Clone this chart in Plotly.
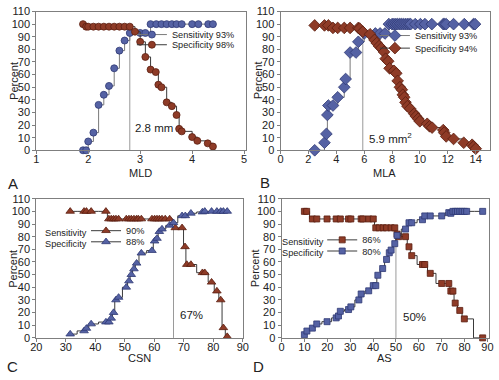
import plotly.graph_objects as go

W, H = 499, 380
FONT = "Liberation Sans, Arial, sans-serif"

# ---------------- Panel A : MLD ----------------
mld_sens_x = [1.90, 1.96, 2.00, 2.10, 2.20, 2.30, 2.40, 2.50, 2.60, 2.70, 2.80, 3.00, 3.10,
              3.20, 3.31, 3.41, 3.51, 3.61, 3.70, 3.80, 4.00, 4.12, 4.31, 4.40]
mld_sens_y = [0, 0, 7, 14, 36, 44, 51, 65, 79, 87, 93, 93, 93,
              100, 100, 100, 100, 100, 100, 100, 100, 100, 100, 100]
mld_spec_x = [1.90, 1.96, 2.00, 2.10, 2.20, 2.30, 2.40, 2.50, 2.60, 2.70, 2.80, 2.90, 3.00,
              3.10, 3.20, 3.30, 3.35, 3.41, 3.51, 3.61, 3.70, 3.75, 3.80, 4.00, 4.10, 4.30, 4.40]
mld_spec_y = [100, 98, 98, 98, 98, 98, 98, 98, 98, 98, 98, 94, 86,
              74, 64, 62, 52, 50, 38, 35, 28, 17, 15, 10.5, 7.5, 5.5, 3]
mld_cut, mld_cut_y = 2.8, 93.5

# ---------------- Panel B : MLA ----------------
mla_sens_x = [2.45, 3.15, 3.29, 3.36, 3.43, 3.76, 4.10, 4.57, 4.67, 4.99, 5.41, 5.58, 6.00,
              6.80, 7.14, 7.49, 7.77, 8.00, 8.14, 8.28, 8.40, 8.54, 8.66, 8.80, 8.94, 9.08,
              9.22, 9.33, 9.66, 10.03, 10.36, 10.85, 11.67, 11.76, 11.88, 12.41, 13.18, 13.84, 13.95]
mla_sens_y = [0, 6, 13, 28, 35.5, 35.5, 42, 50, 56.5, 77.5, 77.5, 86, 92.6,
              92.6, 92.6, 92.6, 100, 100, 100, 100, 100, 100, 100, 100, 100, 100,
              100, 100, 100, 100, 100, 100, 100, 100, 100, 100, 100, 100, 100]
mla_spec_x = [2.45, 3.15, 3.43, 3.76, 4.10, 4.57, 4.99, 5.58, 5.67, 5.90, 6.42, 6.74, 6.90,
              7.07, 7.23, 7.42, 7.54, 7.72, 7.82, 8.14, 8.30, 8.40, 8.56, 8.70, 8.77, 8.87,
              8.96, 9.10, 9.29, 9.59, 9.71, 9.87, 9.99, 10.52, 10.69, 10.87, 11.67, 11.74,
              11.88, 12.41, 13.14, 13.74, 13.84, 14.00]
mla_spec_y = [99, 99, 99, 97, 97, 97, 97, 97, 96.5, 94, 92, 87.5, 85,
              82.6, 81, 78, 72.6, 70.6, 65, 63, 61, 55, 50, 48, 44, 42,
              38, 35, 33, 29, 27, 25, 23, 21, 19, 18, 16, 14,
              11, 9, 6, 4.4, 3, 1.3]
mla_cut, mla_cut_y = 5.9, 93.5

# ---------------- Panel C : CSN ----------------
csn_sens_x = [31.5, 36.2, 37.0, 38.6, 43.6, 44.6, 45.4, 46.2, 47.0, 47.9, 50.5, 51.4, 52.2,
              53.1, 54.0, 54.6, 55.6, 59.2, 60.1, 60.9, 61.7, 62.6, 63.7, 65.2, 67.1, 69.4,
              70.4, 71.0, 72.4, 76.3, 77.1, 79.4, 81.2, 82.5, 83.4, 84.7]
csn_sens_y = [100, 100, 100, 100, 100, 94, 94, 94, 94, 94, 94, 94, 94,
              94, 94, 94, 94, 94, 94, 94, 94, 94, 94, 94, 87, 87,
              72, 58, 58, 51.5, 51.5, 44, 37, 30, 8, 1]
csn_spec_x = [31.5, 36.2, 37.0, 38.6, 43.6, 44.6, 45.4, 46.2, 47.0, 47.9, 50.5, 51.4, 52.2,
              53.1, 54.0, 55.6, 59.2, 60.1, 60.9, 61.7, 62.6, 65.2, 66.5, 69.4, 70.5, 72.4,
              76.3, 77.1, 79.4, 81.2, 82.5, 83.4, 84.7]
csn_spec_y = [3, 5.5, 7.5, 11, 12.5, 12.5, 15.5, 20, 30, 32, 40, 45, 50,
              54.5, 59, 67, 69, 76.5, 78.6, 84, 86, 89, 91, 96.5, 96.5, 98.5,
              99.5, 100, 100, 100, 100, 100, 100]
csn_cut, csn_cut_y = 66.5, 88

# ---------------- Panel D : AS ----------------
as_sens_x = [10, 11, 13.5, 15.4, 19.9, 23.9, 25.7, 29.3, 30.3, 34.8, 35.5, 38.1, 40.1,
             41.2, 42.7, 44.4, 45.9, 47.9, 49.5, 50.5, 51.2, 54.2, 55.7, 56.9, 61.6, 62.6,
             65.0, 70.0, 73.1, 74.0, 74.9, 75.9, 77.9, 79.9, 87.9]
as_sens_y = [100, 100, 94, 94, 94, 94, 94, 94, 94, 94, 94, 94, 94,
             87, 87, 87, 87, 87, 87, 82, 80, 80, 72, 65, 58, 58,
             51, 43, 43, 37, 37, 27.5, 21.7, 15, 0]
as_spec_x = [10, 11.1, 13.5, 15.4, 19.9, 23.9, 24.9, 25.7, 29.3, 30.3, 33.8, 34.8, 38.1,
             40.1, 41.2, 42.1, 44.2, 45.9, 47.1, 47.9, 49.5, 50.5, 54.2, 55.7, 56.9, 61.6,
             62.6, 65.0, 70.0, 73.1, 74.0, 74.9, 75.9, 76.9, 77.9, 78.9, 79.9, 80.9, 87.9]
as_spec_y = [2.5, 5.4, 7.7, 11, 12.8, 15.8, 17.3, 21, 22.4, 24.5, 30, 34.7, 37.2,
             41.3, 41.3, 49.5, 54.8, 62, 67.3, 69.4, 74.5, 81, 86, 91, 91, 93.4,
             96.4, 96.4, 96.4, 99, 98.5, 100, 100, 100, 100, 100, 100, 100, 100]
as_cut, as_cut_y = 50, 81

BLUE, BLUE_EDGE = "#5562A4", "#2E3873"
BROWN, BROWN_EDGE = "#8E3B27", "#5A1E10"
LINE_BLUE, LINE_BROWN = "#7a7a7a", "#3a3a3a"
LEG_SIZE = 9.2

fig = go.Figure()


def cutline(x, ytop, xa, ya):
    fig.add_trace(go.Scatter(x=[x, x], y=[0, ytop], xaxis=xa, yaxis=ya, mode="lines",
                             line=dict(color="#9a9a9a", width=1), showlegend=False,
                             hoverinfo="skip"))


def series(x, y, xa, ya, name, legend, fill, edge, lcol, symbol, size, shape):
    fig.add_trace(go.Scatter(
        x=x, y=y, xaxis=xa, yaxis=ya, mode="lines+markers", name=name, legend=legend,
        line=dict(shape=shape, color=lcol, width=1),
        marker=dict(symbol=symbol, size=size, color=fill, line=dict(color=edge, width=0.8)),
        cliponaxis=False))


cutline(mld_cut, mld_cut_y, "x", "y")
series(mld_sens_x, mld_sens_y, "x", "y", "Sensitivity 93%", "legend", BLUE, BLUE_EDGE, LINE_BLUE, "circle", 7, "hv")
series(mld_spec_x, mld_spec_y, "x", "y", "Specificity 98%", "legend2", BROWN, BROWN_EDGE, LINE_BROWN, "circle", 7, "hv")

cutline(mla_cut, mla_cut_y, "x2", "y2")
series(mla_sens_x, mla_sens_y, "x2", "y2", "Sensitivity 93%", "legend3", BLUE, BLUE_EDGE, LINE_BLUE, "diamond", 9, "hv")
series(mla_spec_x, mla_spec_y, "x2", "y2", "Specificity 94%", "legend4", BROWN, BROWN_EDGE, LINE_BROWN, "diamond", 9, "hv")

cutline(csn_cut, csn_cut_y, "x3", "y3")
series(csn_sens_x, csn_sens_y, "x3", "y3", "90%", "legend5", BROWN, BROWN_EDGE, LINE_BROWN, "triangle-up", 7.5, "hvh")
series(csn_spec_x, csn_spec_y, "x3", "y3", "88%", "legend6", BLUE, BLUE_EDGE, LINE_BROWN, "triangle-up", 7.5, "hvh")

cutline(as_cut, as_cut_y, "x4", "y4")
series(as_sens_x, as_sens_y, "x4", "y4", "86%", "legend7", BROWN, BROWN_EDGE, LINE_BROWN, "square", 6, "hvh")
series(as_spec_x, as_spec_y, "x4", "y4", "80%", "legend8", BLUE, BLUE_EDGE, LINE_BROWN, "square", 6, "hvh")


def px(p):
    return p / W


def py(p):
    return 1 - p / H


axis_common = dict(showgrid=False, zeroline=False, showline=True, mirror=True,
                   linecolor="#7f7f7f", linewidth=1, ticks="outside", ticklen=3,
                   tickcolor="#7f7f7f", tickfont=dict(family=FONT, size=11, color="#222"))


def xax(dom, rng, dtick, anchor):
    return dict(axis_common, domain=[px(dom[0]), px(dom[1])], range=rng, dtick=dtick,
                tick0=0, anchor=anchor, ticklabelstandoff=-4)


def yax(dom, anchor):
    return dict(axis_common, domain=[py(dom[1]), py(dom[0])], range=[0, 110], dtick=10,
                tick0=0, anchor=anchor)


def leg(xm, ym):
    # single-item legend: marker centre sits 20px right of the legend's left edge
    return dict(x=px(xm - 20), y=py(ym), xanchor="left", yanchor="middle",
                bgcolor="rgba(0,0,0,0)", borderwidth=0, itemwidth=30,
                font=dict(family=FONT, size=LEG_SIZE, color="#222"))


layout = dict(
    width=W, height=H, margin=dict(l=0, r=0, t=0, b=0),
    paper_bgcolor="white", plot_bgcolor="white",
    xaxis=xax((31, 246.1), [1, 5.04], 1, "y"),
    yaxis=yax((5.7, 149), "x"),
    xaxis2=xax((281.3, 495.6), [0, 15], 2, "y2"),
    yaxis2=yax((5.7, 149), "x2"),
    xaxis3=xax((31, 242.7), [20, 90], 10, "y3"),
    yaxis3=yax((199, 342.7), "x3"),
    xaxis4=xax((282.3, 494.5), [0, 90.5], 10, "y4"),
    yaxis4=yax((199, 342.7), "x4"),
    legend=leg(149, 29.5), legend2=leg(149, 40),
    legend3=leg(398, 30.5), legend4=leg(398, 43.5),
    legend5=leg(102, 232), legend6=leg(102, 243.5),
    legend7=leg(344, 241.5), legend8=leg(344, 253),
    showlegend=True,
)
fig.update_layout(**layout)

ann = []


def text(xp, yp, s, size=11, xanchor="center", angle=0):
    ann.append(dict(x=px(xp), y=py(yp), xref="paper", yref="paper", text=s, showarrow=False,
                    xanchor=xanchor, yanchor="middle", textangle=angle,
                    font=dict(family=FONT, size=size, color="#222")))


# axis titles
text(138, 172, "MLD")
text(388, 172, "MLA")
text(137, 363.5, "CSN")
text(388, 363.5, "AS")
text(7.5, 77, "Percent", angle=-90)
text(258, 77, "Percent", angle=-90)
text(7.5, 271, "Percent", angle=-90)
text(256, 271, "Percent", angle=-90)
# panel letters
text(7, 183, "A", size=15)
text(265, 182, "B", size=15)
text(7, 372, "C", size=15)
text(259, 372, "D", size=15)
# legend prefixes
text(85.5, 234, "Sensitivity", size=LEG_SIZE, xanchor="right")
text(85.5, 245.5, "Specificity", size=LEG_SIZE, xanchor="right")
text(328, 243.5, "Sensitivity", size=LEG_SIZE, xanchor="right")
text(328, 255, "Specificity", size=LEG_SIZE, xanchor="right")

# cutoff labels (data coordinates)
ann.append(dict(x=2.86, y=18, xref="x", yref="y", text=f"{mld_cut} mm", showarrow=False,
                xanchor="left", font=dict(family=FONT, size=11.5, color="#222")))
ann.append(dict(x=6.2, y=10, xref="x2", yref="y2", text=f"{mla_cut} mm<sup>2</sup>",
                showarrow=False, xanchor="left", font=dict(family=FONT, size=11.5, color="#222")))
ann.append(dict(x=67.9, y=18, xref="x3", yref="y3", text="67%", showarrow=False,
                xanchor="left", font=dict(family=FONT, size=11.5, color="#222")))
ann.append(dict(x=52.3, y=16.6, xref="x4", yref="y4", text="50%", showarrow=False,
                xanchor="left", font=dict(family=FONT, size=11.5, color="#222")))

fig.update_layout(annotations=ann)
fig.write_html("out.html", config={"displayModeBar": False},
               post_script="document.body.style.margin='0px';document.body.style.padding='0px';")
